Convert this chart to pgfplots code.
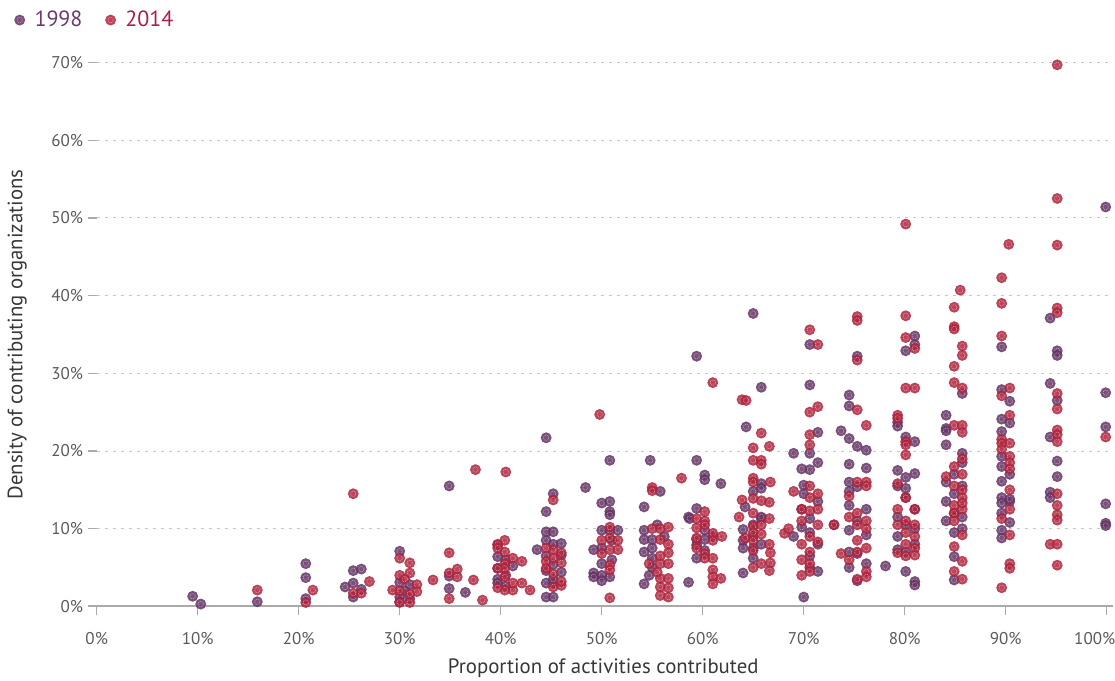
\documentclass[border=0pt]{standalone}
\usepackage{pgfplots}
\pgfplotsset{compat=1.18}
\usepackage{fontspec}
\setmainfont{PT Sans}
\definecolor{c98}{RGB}{100,50,100}
\definecolor{c14}{RGB}{175,35,60}
\definecolor{t98}{RGB}{110,58,110}
\definecolor{t14}{RGB}{168,30,76}
\definecolor{tickc}{RGB}{90,90,90}
\definecolor{axc}{RGB}{170,170,170}
\definecolor{gridc}{RGB}{200,200,200}
\pgfdeclareplotmark{ringdot}{%
  \pgfpathcircle{\pgfpointorigin}{\pgfplotmarksize}%
  \pgfusepathqfill
  \pgfsetstrokecolor{white}%
  \pgfsetstrokeopacity{0.45}%
  \pgfsetlinewidth{0.45pt}%
  \pgfsetdash{{0.9pt}{0.7pt}}{0pt}%
  \pgfpathcircle{\pgfpointorigin}{0.5\pgfplotmarksize}%
  \pgfusepathqstroke
}
\begin{document}
\begin{tikzpicture}
\begin{axis}[
  x=7.575pt, y=5.8275pt,
  xmin=0, xmax=100.3, ymin=0, ymax=70,
  clip=false,
  axis x line*=bottom, axis y line*=left,
  x axis line style={draw=axc, line width=1.6pt, -, shorten <=-6.5pt, shorten >=-2.5pt},
  y axis line style={draw=none},
  tick align=outside,
  major tick length=6.75pt,
  xtick={0,10,...,90},
  xticklabels={0\%,10\%,20\%,30\%,40\%,50\%,60\%,70\%,80\%,90\%},
  extra x ticks={100},
  extra x tick labels={100\%},
  extra x tick style={xticklabel style={xshift=-9pt}},
  ytick={0,10,...,70},
  yticklabels={0\%,10\%,20\%,30\%,40\%,50\%,60\%,70\%},
  x tick style={draw=axc, line width=1pt},
  y tick style={draw=axc, line width=1pt},
  ymajorgrids,
  grid style={draw=gridc, line width=0.7pt, dash pattern=on 2.25pt off 3.75pt},
  tick label style={font=\fontsize{12.75}{14}\selectfont, text=tickc},
  xticklabel style={yshift=-9pt},
  /pgf/number format/assume math mode=true,
  xlabel={Proportion of activities contributed},
  ylabel={Density of contributing organizations},
  label style={font=\fontsize{15.6}{17}\selectfont, text=black!78},
  xlabel style={at={(axis description cs:0.5,-0.114)}, anchor=center},
  ylabel style={at={(axis description cs:-0.0785,0.5)}, anchor=center},
  legend style={at={(axis description cs:-0.0856,1.078)}, anchor=west, draw=none, fill=none,
    legend columns=2, font=\fontsize{16.5}{18}\selectfont,
    /tikz/every even column/.append style={column sep=15pt}},
  mark size=4.1pt,
]
\addplot[only marks, mark=ringdot, mark options={fill=c98, fill opacity=0.85}] coordinates {
(9.5,1.3)(10.3,0.3)(15.9,0.6)
(20.7,5.5)(20.7,3.7)(20.7,1.0)
(25.4,4.6)(26.2,4.8)(24.6,2.5)(25.4,3.0)(26.2,2.2)(25.4,1.2)
(30.0,7.1)(30.0,3.1)(31.0,2.8)(30.0,1.2)(31.0,1.0)(30.0,0.6)(30.5,2.0)
(34.9,15.5)(34.9,3.9)(34.9,2.3)(36.5,1.8)
(39.7,6.4)(39.7,4.9)(40.5,4.0)(39.7,3.5)(40.5,2.6)(40.5,6.0)(41.2,5.2)(39.7,7.9)(39.7,3.0)
(44.5,21.7)(45.2,14.5)(44.5,12.2)(44.5,9.6)(45.2,9.6)(43.6,7.3)(44.5,8.5)(45.2,8.0)(46.0,8.1)
(44.5,6.5)(45.2,5.4)(46.0,4.4)(44.5,4.6)(44.5,3.0)(45.2,3.0)(44.5,1.2)(45.2,1.2)(45.2,3.5)(46.0,6.6)
(48.4,15.3)(50,13.3)(50.8,13.5)(50.8,12.2)(50.8,11.8)(50,9.8)(50.8,9.8)(51.6,9.8)(49.2,7.3)(49.2,4.3)(49.2,3.8)
(50.8,18.8)(50,5.5)(50,7.5)(51,8.5)(50,4.0)(50.8,3.8)(51,6.0)(50,3.3)
(54.2,12.8)(54.8,18.8)(55.8,14.8)(54.2,9.8)(54.2,2.9)(54.2,8.6)(55,8.6)(55,7.5)(54.2,7.0)(55,6.2)(55,5.0)(54.7,4.0)(55.5,10.5)(56.2,9.0)
(59.4,32.2)(59.4,18.8)(58.6,11.5)(59.4,12.6)(58.6,3.1)(58.7,11.3)(60.2,16.9)(60.2,16.3)(61.8,15.8)
(59.4,8.6)(60.2,8.6)(59.4,7.9)(60.2,9.8)(61.0,9.0)(59.4,6.2)(60.2,7.2)
(65,37.7)(65.8,28.2)(64.3,23.1)(69,19.7)(65.8,15.8)(65.8,15.2)(65,14.8)(64.2,12.8)(65.8,11.3)
(64,9.9)(65,6.2)(64,4.3)(65,10.5)(65.8,8.0)(64,7.5)(65,9.0)(64,8.5)(65,7.5)(65.8,11.5)
(70.6,33.7)(70.6,28.5)(71.4,22.4)(70.6,19.7)(71.4,18.5)(69.8,17.7)(70.6,17.6)(70,15.6)(70,14.5)
(71.4,13.5)(69.8,12.5)(70.6,11.3)(69.8,10.2)(70.6,9.5)(69,9.0)(71.4,8.0)(70.6,5.0)(70,1.2)(70.6,6.5)(71.4,4.5)
(75.3,32.2)(74.5,27.2)(74.5,25.8)(73.7,22.6)(74.5,21.6)(75.3,20.6)(76.2,20.1)(74.5,18.3)(76.2,17.8)
(74.5,16.0)(75.3,15.4)(74.5,13.0)(76.2,12.5)(75.3,11.0)(74.5,9.8)(76.2,9.2)(74.5,7.0)(75.3,6.8)
(76.2,5.5)(74.5,5.0)(75.3,3.3)(73.0,10.5)(74.5,14.8)
(81,34.8)(81,33.7)(80.1,32.9)(79.3,23.7)(79.3,23.2)(80.1,21.8)(81,21.2)(79.3,17.5)(80.1,16.6)
(81,17.1)(79.3,15.5)(80.1,14.0)(81,12.5)(79.3,11.5)(80.1,10.5)(81,10.0)(79.3,9.0)(81,8.0)
(79.3,7.3)(80.1,7.0)(78.1,5.2)(80.1,4.5)(81,3.2)(81,2.75)(80.1,15.2)
(85.7,27.4)(84.1,24.6)(84.1,22.9)(84.1,22.6)(84.1,20.8)(85.7,19.7)(85.7,18.5)(84.9,17.0)(84.1,16.0)
(85.7,15.5)(84.9,14.5)(84.1,13.5)(84.9,12.0)(85.7,11.5)(84.1,11.0)(85.7,10.0)(84.9,9.5)(84.9,6.4)(84.9,3.4)
(89.6,33.4)(89.6,27.9)(90.4,26.4)(89.6,24.1)(90.4,23.6)(89.6,22.5)(89.6,18.0)(89.6,16.1)(89.6,14.0)
(90.4,13.5)(89.6,13.3)(90.4,13.8)(90.4,10.8)(89.6,9.8)(89.6,8.8)(89.6,12.0)(90.4,17.0)(89.6,19.3)
(94.4,37.1)(95.1,32.9)(95.1,32.3)(94.4,28.7)(95.1,26.5)(94.4,21.8)(95.1,18.7)(95.1,16.7)(94.4,14.7)(94.4,14.0)
(99.9,51.4)(99.9,27.5)(99.9,23.1)(99.9,13.2)(99.9,10.7)(99.9,10.4)
};
\addlegendentry{\hspace{5pt}\textcolor{t98}{1998}}
\addplot[only marks, mark=ringdot, mark options={fill=c14, fill opacity=0.85}] coordinates {
(15.9,2.1)(20.7,0.5)(21.4,2.1)
(25.4,14.5)(25.4,1.7)(26.2,1.7)(27.0,3.2)
(30,6.2)(31,5.6)(30,4.0)(31,4.3)(29.3,2.1)(31.7,2.8)(31.7,1.9)(30,2.0)(31,1.6)(30,0.5)(31,0.5)(30.5,3.5)(33.3,3.4)
(34.9,6.9)(34.9,4.3)(34.9,1.0)(35.7,4.8)(35.7,3.8)(37.5,17.6)(37.3,3.4)(38.2,0.8)
(40.5,17.3)(39.7,8.0)(40.4,8.5)(40.4,7.0)(39.7,7.5)(40.4,5.5)(40.4,3.8)(41.2,6.2)(42.1,5.8)
(42.1,3.0)(42.9,2.1)(41.2,2.1)(40.4,2.1)(39.7,2.4)(41.2,3.0)(40.4,4.9)(39.7,4.9)
(45.2,13.7)(45.2,7.3)(46,5.6)(45.2,6.2)(44.5,7.5)(46,6.9)(45.2,4.2)(46,2.7)(46,3.2)(44.5,5.8)(45.2,2.5)(44.5,4.9)
(49.8,24.7)(50,8.5)(50.8,8.8)(51.6,8.5)(50.8,7.3)(51.6,7.3)(50,6.8)(50.8,1.1)(50.8,10.2)(50.8,5.3)(50.8,4.7)
(55,15.3)(55,14.9)(55.8,10.0)(55,10.0)(56.6,10.2)(55.8,8.6)(56.6,8.0)(55.8,6.5)(56.6,6.9)(55.8,5.5)(56.6,5.5)
(55.8,3.6)(56.6,3.6)(55.8,2.5)(56.6,2.4)(55.8,1.4)(56.6,1.2)(55.5,4.4)(54.7,5.5)
(57.9,16.5)(61,28.8)(59.4,11.3)(59.4,10.1)(60.2,12.2)(60.2,11.0)(61,9.4)(61,8.5)(60.2,6.8)(60.2,6.2)
(59.4,8.8)(61,6.2)(61,4.7)(61,3.8)(61,2.9)(61.8,3.6)(60.2,10.5)(59.4,7.5)(61.9,9.0)
(63.9,26.6)(64.3,26.5)(65.8,22.3)(65,20.4)(66.6,20.6)(65,18.8)(65.8,18.8)(65.8,18.3)(65,16.5)(65,16.0)(66.7,16.0)
(63.9,13.7)(65,13.9)(65.8,13.6)(66.6,13.4)(63.6,11.5)(65,12.0)(66.6,11.3)(65,10.3)(65,9.5)(65.8,9.3)(65,8.5)
(66.6,8.0)(65,7.2)(66.7,6.9)(66.7,5.6)(65.8,5.5)(66.6,4.6)(65,5.0)(64.2,8.8)(68.1,9.4)(65.8,10.5)
(70.6,35.6)(71.4,33.7)(70.6,25.0)(71.4,25.7)(70.6,22.1)(70.6,20.8)(69,14.8)(70.6,15.5)(70.6,14.0)
(71.4,12.5)(70.6,12.3)(69.8,11.0)(71.4,10.5)(70.6,9.0)(69.8,8.0)(71.4,8.3)(70.6,7.0)(69.8,6.0)
(70.6,5.5)(69.8,4.0)(70.6,4.5)(68.5,10.0)(69.8,12.5)(71.4,14.5)
(75.3,37.3)(75.3,36.8)(75.3,31.7)(75.3,25.3)(76.2,23.3)(75.3,16.0)(76.2,16.0)(76.2,15.5)(74.5,14.2)
(75.3,12.0)(76.2,11.0)(75.3,10.5)(76.2,10.0)(73.0,10.5)(74.5,11.5)(75.3,8.5)(76.2,7.5)(75.3,7.0)
(74.5,6.0)(76.2,4.5)(75.3,3.5)(76.2,3.8)(73.7,6.8)
(80.1,49.2)(80.1,37.4)(80.1,34.6)(81,33.2)(80.1,28.1)(81,28.1)(79.3,24.6)(79.3,24.2)(80.1,21.2)
(80.1,20.8)(80.1,19.5)(79.3,15.8)(80.1,14.0)(81,12.5)(79.3,12.5)(80.1,11.0)(81,10.5)(79.3,10.5)
(80.1,9.5)(81,9.0)(80.1,8.0)(81,7.5)(79.3,6.9)(81,6.6)(80.1,6.5)
(85.5,40.7)(84.9,38.5)(84.9,36.0)(84.9,35.7)(85.7,33.5)(85.7,32.3)(84.9,30.9)(84.9,28.8)(85.7,28.1)
(84.9,23.3)(85.7,23.3)(85.7,22.4)(84.1,16.7)(85.7,15.0)(85.7,19.0)(84.9,18.0)(85.7,17.0)(84.9,15.5)
(85.7,14.0)(84.9,13.0)(85.7,12.5)(84.9,11.0)(85.7,9.2)(84.9,7.7)(85.7,5.8)(84.9,4.5)(85.7,3.5)(85.7,13.3)(84.9,12.0)
(89.6,42.3)(90.3,46.6)(89.6,39.0)(89.6,34.8)(89.6,27.1)(90.4,28.1)(90.4,24.6)(89.6,21.5)(89.6,21.0)
(89.6,20.2)(90.4,21.0)(90.4,19.3)(90.4,18.5)(90.4,17.7)(90.4,15.0)(90.4,12.5)(89.6,11.3)(90.4,9.2)
(90.4,5.5)(90.4,4.9)(89.6,2.4)
(95.1,69.7)(95.1,52.5)(95.1,46.5)(95.1,38.4)(95.1,37.8)(95.1,27.4)(95.1,25.4)(95.1,22.7)(95.1,22.1)
(95.1,21.2)(95.1,14.5)(95.1,13.0)(95.1,11.8)(95.1,11.1)(94.4,8.0)(95.1,8.0)(95.1,5.3)
(99.9,21.8)
};
\addlegendentry{\hspace{5pt}\textcolor{t14}{2014}}
\coordinate (O) at (axis cs:0,0);
\end{axis}
\pgfresetboundingbox
\path[use as bounding box] ([shift={(-72.525pt,-55.95pt)}]O) rectangle ([shift={(763.725pt,454.8pt)}]O);
\end{tikzpicture}
\end{document}
